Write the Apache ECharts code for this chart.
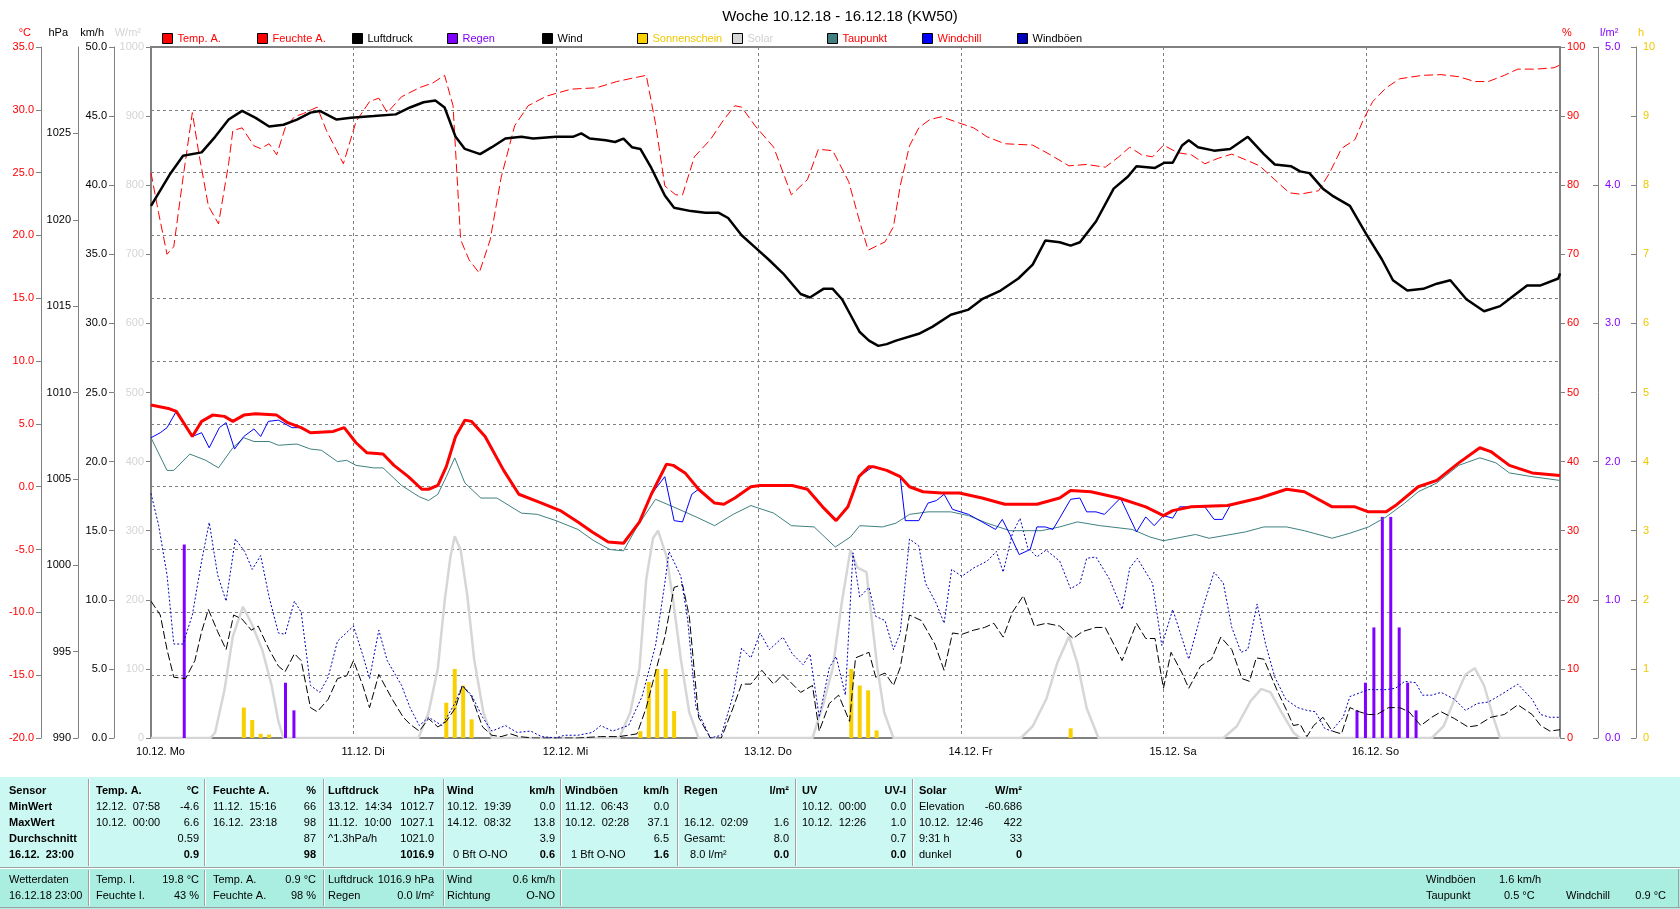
<!DOCTYPE html>
<html>
<head>
<meta charset="utf-8">
<title>Woche 10.12.18 - 16.12.18 (KW50)</title>
<script src="https://cdn.jsdelivr.net/npm/echarts@6.0.0/dist/echarts.min.js"></script>
<style>
html, body { margin: 0; padding: 0; background: #fff; }
#chart { width: 1680px; height: 909px; }
</style>
</head>
<body>
<div id="chart"></div>
<script>
// hours since 10.12. 00:00
const dayLabels = ['10.12. Mo', '11.12. Di', '12.12. Mi', '13.12. Do', '14.12. Fr', '15.12. Sa', '16.12. So'];
const hpaTicks = [990, 995, 1000, 1005, 1010, 1015, 1020, 1025];

const pressTime = [0,2.2,3.8,6,7.6,9.2,10.8,12.4,14,15.7,
  17.3,18.9,20,22,23.7,26.4,29,30.7,32.3,33.7,
  34.8,36.1,37.2,39,40.4,42,43.9,45.3,48,50,
  51,52,53.9,55,56,57,58,59.3,60.9,62,
  64,65.7,67.3,68.4,70,71.6,73.2,74.9,77,78.1,
  79.7,80.8,81.9,82.9,84,85.1,86.2,87.2,88.3,91,
  92.6,94.8,96.9,98.5,100.7,102.8,104.5,106,107.7,109,
  110.1,112,114.1,115.8,116.8,119,120.1,121.1,122.2,123,
  124.1,126,127.9,130,131.9,133.2,135.1,136.2,137.3,138.9,
  140,142.1,144,145.9,147.2,148.9,150.8,152.4,154,155.9,
  158,159.9,161.5,163.1,164.7,166.8,167];
const pressVal = [1020.8,1022.6,1023.7,1023.9,1024.8,1025.8,1026.3,1025.9,1025.4,1025.5,
  1025.8,1026.2,1026.3,1025.8,1025.9,1026.0,1026.1,1026.5,1026.8,1026.9,
  1026.5,1024.8,1024.1,1023.8,1024.2,1024.7,1024.8,1024.7,1024.8,1024.8,
  1025.0,1024.7,1024.6,1024.5,1024.7,1024.2,1024.1,1023.0,1021.4,1020.7,
  1020.5,1020.4,1020.4,1020.1,1019.1,1018.4,1017.7,1016.9,1015.7,1015.5,
  1016.0,1016.0,1015.4,1014.5,1013.5,1013.0,1012.7,1012.8,1013.0,1013.4,
  1013.8,1014.5,1014.8,1015.4,1015.9,1016.6,1017.4,1018.8,1018.7,1018.5,
  1018.7,1019.9,1021.8,1022.5,1023.1,1023.0,1023.3,1023.3,1024.3,1024.6,
  1024.2,1024.0,1024.1,1024.8,1023.8,1023.2,1023.1,1022.8,1022.7,1021.8,
  1021.4,1020.8,1019.2,1017.7,1016.5,1015.9,1016.0,1016.3,1016.5,1015.4,
  1014.7,1015.0,1015.6,1016.2,1016.2,1016.6,1016.9];

const tempTime = [0,2.2,3,4.9,6,7.3,8.7,9.7,11,12.4,
  14.9,16.2,17.8,18.9,21.6,22.9,24.3,25.6,27.5,28.8,
  30.5,32.1,32.9,34,35,36.1,37.2,38,39.6,41.8,
  43.6,46.3,48.5,50.6,52.3,54.2,56,57.9,59.3,61.1,
  61.9,63.3,64.9,66.8,67.9,69.2,71.1,72.2,76,77.8,
  79.6,81.2,82.6,83.9,85.1,85.6,87.2,88.8,89.9,91.5,
  93.7,95.8,98.5,101.2,105,107.7,109,111.4,114.7,117.9,
  120,121.1,123.3,127.6,131.4,134.6,136.7,140,142.7,144.3,
  146.4,147.5,150.2,152.4,155,157.5,158.8,161,163.7,167];
const tempVal = [6.5,6.2,6.0,4.0,5.2,5.7,5.6,5.2,5.7,5.8,
  5.7,5.1,4.7,4.3,4.4,4.7,3.5,2.7,2.6,1.7,
  0.8,-0.2,-0.2,0.1,1.6,4.0,5.3,5.2,4.0,1.3,
  -0.6,-1.3,-1.9,-2.8,-3.6,-4.4,-4.5,-2.8,-0.6,1.8,
  1.7,1.1,-0.2,-1.3,-1.4,-0.9,0.0,0.1,0.1,-0.2,
  -1.6,-2.7,-1.6,0.8,1.6,1.6,1.3,0.8,0.0,-0.4,
  -0.5,-0.5,-0.9,-1.4,-1.4,-0.9,-0.3,-0.4,-0.9,-1.6,
  -2.3,-1.9,-1.6,-1.5,-0.9,-0.2,-0.4,-1.6,-1.6,-2.0,
  -2.0,-1.5,0.0,0.5,1.9,3.1,2.8,1.7,1.1,0.9];

const dewTime = [0,1.9,2.7,4.6,6.5,8,9.7,11,12.2,14,
  15.1,17.3,18.9,20.2,22.1,23.2,24.3,26.4,27.5,29.7,
  31.8,32.9,34,35,36,37.2,39.1,41,43.9,45.8,
  48,50.6,52.5,54.4,56,57.6,59.8,61.9,64.6,66.8,
  69,71.1,73.8,75.9,78.6,81.1,82.9,84,86.7,88.3,
  89.9,92.1,94.8,96.9,99.1,101.8,105.5,107.7,109.8,112.5,
  116.3,118.4,120,123.8,125.4,129.7,131.9,134.6,136.7,140,
  142.1,144.3,146.4,148.6,150.2,152.4,155,157.5,159.4,161,
  163.7,167];
const dewVal = [3.9,1.3,1.3,2.6,2.1,1.5,3.1,3.9,3.6,3.6,
  3.3,3.4,3.0,2.9,2.0,2.1,1.7,1.5,1.5,0.1,
  -0.8,-1.1,-0.6,0.8,2.3,0.3,-0.9,-0.9,-2.1,-2.2,
  -2.7,-3.4,-4.3,-5.0,-5.1,-3.2,-1.0,-1.6,-2.4,-3.1,
  -2.2,-1.5,-2.1,-3.1,-3.2,-4.8,-4.0,-3.1,-3.2,-2.9,
  -2.2,-2.0,-2.0,-2.3,-2.9,-3.5,-3.5,-3.2,-2.8,-3.1,
  -3.4,-4.0,-4.3,-3.8,-4.1,-3.6,-3.2,-3.2,-3.5,-4.1,
  -3.7,-3.2,-2.4,-1.3,-0.4,0.3,1.7,2.3,1.9,1.1,
  0.8,0.5];

const chillTime = [0,1.1,1.9,3,4.9,6,6.9,8.1,8.9,9.9,
  11,12.2,13,13.9,15.1,16.7,17.8,18.9,21.6,22.9,
  24.3,25.6,27.5,28.8,30.5,32.1,32.9,34,35,36.1,
  37.2,38,39.6,41.8,43.6,46.3,48.5,50.6,52.3,54.2,
  56,57.9,59.3,60.9,62,63,64.1,64.9,66.8,67.9,
  69.2,71.1,72.2,76,77.8,79.6,81.2,82.6,83.9,85.6,
  87.2,88.8,89.4,91,92.1,93.1,94,95,96.9,98.5,
  100.1,100.9,101.8,102.9,104.2,105,106,106.9,107.7,109,
  110.1,110.9,112,113,114.9,116.8,117.9,118.9,120,121.1,
  121.9,123.3,124.9,126,127,127.9,131.4,134.6,136.7,140,
  142.7,144.3,146.4,147.5,150.2,152.4,155,157.5,158.8,161,
  163.7,167];
const chillVal = [3.9,4.3,4.7,6.0,4.0,4.3,3.1,4.7,5.1,3.0,
  4.0,4.6,4.0,5.2,5.3,4.7,4.7,4.3,4.4,4.7,
  3.5,2.7,2.6,1.7,0.8,-0.2,-0.2,0.1,1.6,4.0,
  5.3,5.2,4.0,1.3,-0.6,-1.3,-1.9,-2.8,-3.6,-4.4,
  -4.5,-2.8,-0.6,0.8,-2.7,-2.8,-0.6,-0.2,-1.3,-1.4,
  -0.9,0.0,0.1,0.1,-0.2,-1.6,-2.7,-1.6,0.8,1.6,
  1.3,0.8,-2.7,-2.7,-1.3,-1.1,-0.6,-1.8,-2.2,-2.8,
  -3.4,-2.6,-3.8,-5.4,-5.0,-3.2,-3.2,-3.4,-2.5,-1.0,
  -0.9,-2.0,-2.0,-2.2,-0.9,-3.6,-2.4,-3.1,-2.3,-2.5,
  -1.6,-1.6,-1.6,-2.6,-2.6,-1.5,-0.9,-0.2,-0.4,-1.6,
  -1.6,-2.0,-2.0,-1.5,0.0,0.5,1.9,3.1,2.8,1.7,
  1.1,0.9];

const humTime = [0,0.9,1.9,2.7,3.8,4.9,5.7,6.8,8,9.2,
  9.7,10.8,12.2,13,14,14.9,15.9,17,18.1,19.7,
  20.8,22.8,24.3,25.9,27,28,29.7,31.8,33.4,34.8,
  35.8,36.7,37.7,38.9,40.2,41.5,43.1,44.7,46.9,49.8,
  52.8,55.2,57.1,58.7,59.8,60.9,62.2,63,64.4,66.3,
  67.9,69.2,70,71.6,73.8,75.9,77.8,79.1,80.8,82.7,
  84,85,87,88,88.8,89.9,91,92.3,93.7,95.8,
  97.5,99.1,101.2,104.5,106.6,108.8,110.9,113.1,114.7,116,
  117.4,118.7,120,121.7,123.3,124.9,126.5,128.1,129.7,131.4,
  133.2,134.9,136.2,138.4,139.7,141.1,142.7,143.7,144.8,146.4,
  148,150.7,152.9,155,156.9,158.5,160.4,162,164.2,166.3,
  167];
const humVal = [81.8,76.0,70.0,71.1,81.1,90.5,84.4,77.0,74.4,83.1,
  87.9,88.3,85.7,85.3,86.0,84.4,88.3,89.9,90.4,91.3,
  87.9,83.1,89.2,92.1,92.6,90.5,92.8,94.1,94.8,95.9,
  91.5,72.1,69.2,67.3,72.1,81.1,88.6,91.5,92.9,93.9,
  94.1,95.0,95.5,95.9,88.9,79.9,78.6,78.6,84.1,86.6,
  89.5,91.5,91.3,88.6,85.5,78.6,80.8,85.2,85.0,80.5,
  74.7,70.6,71.8,74.0,79.9,85.7,88.3,89.5,89.9,89.0,
  88.3,87.0,86.0,85.8,84.4,82.8,83.0,82.6,84.1,85.5,
  84.4,84.1,85.8,84.7,84.4,83.1,83.9,84.5,83.7,82.8,
  80.8,78.9,78.7,79.2,81.8,85.3,86.6,89.5,92.1,94.1,
  95.4,95.9,96.0,95.7,95.0,95.0,95.9,96.8,96.8,97.0,
  97.4];

const windTime = [0,1.1,1.9,2.7,4.1,5.2,6,6.8,7.9,8.9,
  9.8,10.8,11.9,12.7,14,15.1,15.9,17,17.8,18.9,
  19.7,21,22.1,23.2,24,25.1,25.9,27,28.6,29.9,
  30.7,31.8,32.9,34,35,36.1,36.9,38,39.3,40.4,
  41.5,42.6,43.6,45.3,48,50.6,53.3,55.5,57.6,58.7,
  59.8,60.9,62,63,63.8,64.9,66.3,67.6,69,70,
  71.1,72.4,73.8,74.9,77,78.4,79.2,80.4,81.5,82.8,
  83.5,85.1,85.9,87,88,88.8,89.9,91.3,92.9,94,
  95,96.1,97.5,98.8,99.9,101,102.1,103.4,104.7,106.1,
  107.7,109.3,110.4,112,113.1,115.1,116.8,117.9,119,120,
  120.9,122.2,123,124.4,125.7,126.8,128.1,129.3,130.2,131,
  131.9,133.5,134.6,135.4,136.2,137,137.8,138.9,140,141.1,
  142.1,143.2,144.3,145.3,146.7,148,149.1,150.5,151.8,152.9,
  154.5,156.1,157.2,158.8,160.4,162,163.7,164.7,165.8,167];
const windVal = [9.9,8.9,6.4,4.4,4.3,5.6,7.7,9.3,7.7,6.4,
  8.9,8.6,7.8,8.1,6.4,5.2,4.8,6.1,5.6,2.2,
  1.9,2.8,4.3,4.5,5.6,3.8,2.2,4.6,2.8,1.5,
  1.0,0.5,1.4,0.8,1.2,2.2,3.8,3.0,0.8,0.2,
  0.1,0.3,0.1,0.0,0.0,0.0,0.1,0.1,0.3,2.2,
  4.8,7.3,10.9,11.1,8.8,1.5,0.0,0.0,2.2,3.9,
  3.9,4.9,3.9,4.6,3.3,3.8,0.5,2.5,3.1,1.2,
  5.8,6.2,4.4,4.7,3.8,5.1,8.9,8.5,6.8,4.9,
  7.6,7.5,7.8,8.0,8.3,7.3,9.1,10.3,8.1,8.3,
  8.1,7.2,7.7,8.0,8.0,5.6,8.3,7.2,7.2,3.6,
  6.2,4.7,3.6,5.2,5.7,7.3,6.4,4.3,4.1,5.8,
  5.7,3.4,2.0,0.9,1.0,0.1,0.9,1.5,0.5,0.3,
  2.2,1.9,1.7,1.7,2.2,2.2,1.9,0.9,1.5,1.9,
  1.4,0.8,0.9,1.5,1.7,2.4,1.7,0.9,0.5,0.6];

const gustTime = [0,0.9,1.9,2.7,3.8,4.9,6,6.9,7.9,8.9,
  10,11.1,12,13,14,15.1,15.9,17,17.8,18.9,
  20,21,22.1,24,25.1,25.9,27,28,29.7,30.7,
  31.8,32.9,34.5,36.1,36.9,38,39.3,40.4,42,43.4,
  45,46.3,48,49,50.6,52.3,53.3,54.7,56.6,58.2,
  59.8,60.9,61.4,62.8,63.6,64.6,66.3,67.6,69,70,
  71.1,72.2,73.3,74.9,76,77.3,78.1,79.2,80.4,81.2,
  82.3,83.2,84,85.1,85.9,87,88,88.8,89.9,91,
  91.8,93.1,94,94.9,96.1,97.5,99.1,100.2,101,102.1,
  103,103.9,105,106.1,107.7,109,110.1,110.9,112,113.6,
  115.1,116,116.9,118.7,119.8,121.1,123,124.6,126,127.1,
  128.1,129.2,130,131.1,132.1,133.2,134.5,135.9,137,138,
  139.1,139.9,141.3,142.1,144.3,146.4,147.5,148.6,149.9,150.7,
  151.8,152.9,154.5,155.8,157.2,158.5,159.9,162,163.7,164.7,
  165.8,167];
const gustVal = [17.7,15.4,11.8,6.8,6.8,8.9,12.8,15.6,11.8,9.9,
  14.4,13.5,12.2,13.2,10.2,7.6,7.5,9.9,9.1,3.8,
  3.3,4.4,7.0,8.1,6.0,4.3,7.8,5.6,3.8,2.2,
  0.9,1.5,0.9,2.6,3.8,3.1,1.5,0.5,0.9,0.4,
  0.5,0.1,0.0,0.2,0.2,0.4,0.9,0.5,0.9,3.0,
  6.7,11.2,13.5,11.7,8.6,2.2,0.0,0.2,3.1,6.5,
  5.8,7.6,6.4,7.3,6.1,5.3,6.1,1.5,5.1,5.9,
  3.1,13.4,10.2,10.9,8.8,8.5,6.4,7.6,14.4,13.9,
  11.2,9.7,8.3,12.2,11.7,12.3,12.8,13.5,12.0,14.8,
  15.9,13.8,13.1,13.6,12.8,10.8,11.2,13.0,13.1,11.5,
  9.3,12.3,13.0,11.2,6.7,9.3,5.7,9.3,12.0,11.2,
  8.0,6.2,6.4,9.7,6.8,4.4,2.8,2.2,2.0,1.9,
  0.7,0.5,1.5,3.0,3.5,3.5,3.6,4.1,4.0,3.1,
  3.1,3.3,2.8,2.0,2.5,2.6,3.1,3.9,2.8,1.7,
  1.5,1.5];

const solarTime = [0,7.05,7.6,8.7,9.7,10.9,11.9,13.2,14.3,15.1,
  15.7,31.7,32.9,34,34.8,35.5,36,36.7,37.5,38.3,
  39.4,40.4,55.5,56.8,57.9,58.7,59.5,60.1,61.1,61.9,
  62.8,63.8,64.9,78.4,79.7,80.8,81.9,82.9,83.7,84.8,
  85.3,86.1,86.9,88,103.1,104.5,106.1,107.4,108.8,109.8,
  110.9,112.3,127.1,128.7,130.3,131.6,132.7,134,135.4,136.2,
  151.8,153.2,154.5,155.8,156.9,158,159.1,159.9,167];
const solarVal = [0,0,8,69,147,190,166,127,76,24,
  0,0,37,101,198,263,292,272,205,114,
  37,0,0,37,101,230,289,300,263,198,
  114,37,0,0,50,101,198,272,247,240,
  185,101,37,0,0,17,56,108,147,108,
  43,0,0,17,53,71,66,37,8,0,
  0,17,56,92,101,76,30,0,0];

const rainTime = [4, 16, 17, 143, 144, 145, 146, 147, 148, 149, 150];
const rainVal = [1.4, 0.4, 0.2, 0.2, 0.4, 0.8, 1.6, 1.6, 0.8, 0.4, 0.2];

const sunTime = [11, 12, 13, 14, 35, 36, 37, 38, 58, 59, 60, 61, 62, 83, 84, 85, 86, 109];
const sunVal = [0.44, 0.26, 0.06, 0.05, 0.51, 1.0, 0.76, 0.27, 0.1, 0.81, 1.0, 1.0, 0.39, 1.0, 0.76, 0.69, 0.11, 0.14];

const legendNames = ['Temp. A.', 'Feuchte A.', 'Luftdruck', 'Regen', 'Wind', 'Sonnenschein', 'Solar', 'Taupunkt', 'Windchill', 'Windböen'];
const legendTextColors = ['#ff0000', '#ff0000', '#000000', '#8000ff', '#000000', '#f0c800', '#d0d0d0', '#ff0000', '#ff0000', '#000000'];

// summary table below the plot
const tableCols = [
  { lx: 9, rx: 0, cells: [['Sensor', ''], ['MinWert', ''], ['MaxWert', ''], ['Durchschnitt', ''], ['16.12.  23:00', '']], allBold: true },
  { lx: 96, rx: 199, cells: [['Temp. A.', '°C'], ['12.12.  07:58', '-4.6'], ['10.12.  00:00', '6.6'], ['', '0.59'], ['', '0.9']] },
  { lx: 213, rx: 316, cells: [['Feuchte A.', '%'], ['11.12.  15:16', '66'], ['16.12.  23:18', '98'], ['', '87'], ['', '98']] },
  { lx: 328, rx: 434, cells: [['Luftdruck', 'hPa'], ['13.12.  14:34', '1012.7'], ['11.12.  10:00', '1027.1'], ['^1.3hPa/h', '1021.0'], ['', '1016.9']] },
  { lx: 447, rx: 555, cells: [['Wind', 'km/h'], ['10.12.  19:39', '0.0'], ['14.12.  08:32', '13.8'], ['', '3.9'], ['  0 Bft O-NO', '0.6']] },
  { lx: 565, rx: 669, cells: [['Windböen', 'km/h'], ['11.12.  06:43', '0.0'], ['10.12.  02:28', '37.1'], ['', '6.5'], ['  1 Bft O-NO', '1.6']] },
  { lx: 684, rx: 789, cells: [['Regen', 'l/m²'], ['', ''], ['16.12.  02:09', '1.6'], ['Gesamt:', '8.0'], ['  8.0 l/m²', '0.0']] },
  { lx: 802, rx: 906, cells: [['UV', 'UV-I'], ['10.12.  00:00', '0.0'], ['10.12.  12:26', '1.0'], ['', '0.7'], ['', '0.0']] },
  { lx: 919, rx: 1022, cells: [['Solar', 'W/m²'], ['Elevation', '-60.686'], ['10.12.  12:46', '422'], ['9:31 h', '33'], ['dunkel', '0']] },
];
const currentCols = [
  { lx: 9, rx: 0, cells: [['Wetterdaten', ''], ['16.12.18 23:00', '']] },
  { lx: 96, rx: 199, cells: [['Temp. I.', '19.8 °C'], ['Feuchte I.', '43 %']] },
  { lx: 213, rx: 316, cells: [['Temp. A.', '0.9 °C'], ['Feuchte A.', '98 %']] },
  { lx: 328, rx: 434, cells: [['Luftdruck', '1016.9 hPa'], ['Regen', '0.0 l/m²']] },
  { lx: 447, rx: 555, cells: [['Wind', '0.6 km/h'], ['Richtung', 'O-NO']] },
];
const currentExtra = [
  ['Windböen', 1426, 0], ['1.6 km/h', 1499, 0],
  ['Taupunkt', 1426, 1], ['0.5 °C', 1504, 1], ['Windchill', 1566, 1],
];

const fontFamily = "'Liberation Sans', Arial, sans-serif";
const gridColor = '#808080';

const pairs = (t, v) => t.map((h, i) => [h, v[i]]);

const text = (x, y, s, align, bold) => ({
  type: 'text',
  x: x,
  y: y,
  silent: true,
  z: 10,
  style: {
    text: s,
    fill: '#000',
    font: (bold ? 'bold ' : '') + '11px ' + fontFamily,
    align: align,
    textAlign: align,
    verticalAlign: 'middle',
    textVerticalAlign: 'middle',
  },
});
const vline = (x, y1, y2, color) => ({
  type: 'line',
  silent: true,
  z: 5,
  shape: { x1: x + 0.5, y1: y1, x2: x + 0.5, y2: y2 },
  style: { stroke: color, lineWidth: 1 },
});
const hline = (y, x1, x2, color) => ({
  type: 'line',
  silent: true,
  z: 5,
  shape: { x1: x1, y1: y + 0.5, x2: x2, y2: y + 0.5 },
  style: { stroke: color, lineWidth: 1 },
});

const buildTable = () => {
  const els = [];
  els.push({ type: 'rect', silent: true, z: 1, shape: { x: 0, y: 777, width: 1680, height: 92 }, style: { fill: '#cbf8f3' } });
  els.push({ type: 'rect', silent: true, z: 1, shape: { x: 0, y: 869, width: 1680, height: 40 }, style: { fill: '#aaeee2' } });
  els.push(hline(867, 0, 1680, '#a0a0a0'));
  els.push(hline(868, 0, 1680, '#ffffff'));
  els.push(hline(907, 0, 1680, '#a0a0a0'));
  els.push(vline(1678, 869, 908, '#a0a0a0'));
  [88, 204, 323, 443, 560, 677, 795, 912].forEach((x) => {
    els.push(vline(x, 779, 866, '#a0a0a0'));
    els.push(vline(x + 1, 779, 866, '#ffffff'));
  });
  [88, 204, 323, 443, 560].forEach((x) => {
    els.push(vline(x, 870, 906, '#a0a0a0'));
    els.push(vline(x + 1, 870, 906, '#ffffff'));
  });
  const rowsY = [791, 807, 823, 839, 855];
  tableCols.forEach((col) => {
    col.cells.forEach((cell, r) => {
      const bold = col.allBold || r === 0;
      if (cell[0]) els.push(text(col.lx, rowsY[r], cell[0], 'left', bold));
      if (cell[1]) els.push(text(col.rx, rowsY[r], cell[1], 'right', r === 0 || r === 4));
    });
  });
  const lowY = [880, 896];
  currentCols.forEach((col) => {
    col.cells.forEach((cell, r) => {
      if (cell[0]) els.push(text(col.lx, lowY[r], cell[0], 'left', false));
      if (cell[1]) els.push(text(col.rx, lowY[r], cell[1], 'right', false));
    });
  });
  currentExtra.forEach((c) => els.push(text(c[1], lowY[c[2]], c[0], 'left', false)));
  els.push(text(1666, lowY[1], '0.9 °C', 'right', false));
  return els;
};

const yAx = (o) => ({
  type: 'value',
  position: o.pos,
  offset: o.offset,
  min: o.min,
  max: o.max,
  interval: o.step,
  name: o.name,
  nameLocation: 'end',
  nameGap: 14,
  nameTextStyle: {
    color: o.color,
    fontSize: 11,
    fontFamily,
    align: o.pos === 'left' ? 'right' : 'left',
    verticalAlign: 'middle',
    padding: o.pos === 'left' ? [0, 10, 0, 0] : [0, 0, 0, 2],
  },
  axisLine: { show: o.line !== false, onZero: false, lineStyle: { color: gridColor, width: 1 } },
  axisTick: {
    show: true,
    length: 5,
    inside: !!o.tickInside,
    customValues: o.ticks,
    lineStyle: { color: gridColor },
  },
  axisLabel: {
    color: o.color,
    fontSize: 11,
    fontFamily,
    margin: 7,
    customValues: o.ticks,
    showMaxLabel: true,
    formatter: (v) => (o.hideMax && v >= o.max ? '' : v.toFixed(o.dec)),
  },
  splitLine: { show: !!o.split, lineStyle: { color: gridColor, type: [3, 3], width: 1 } },
});

const lineSeries = (name, axis, t, v, color, width, type, z) => ({
  name,
  type: 'line',
  yAxisIndex: axis,
  data: pairs(t, v),
  showSymbol: false,
  symbol: 'none',
  color,
  lineStyle: { color, width, type },
  emphasis: { disabled: true },
  z,
});

const chart = echarts.init(document.getElementById('chart'));

const option = {
  backgroundColor: '#ffffff',
  animation: false,
  textStyle: { fontFamily },
  title: {
    text: 'Woche 10.12.18 - 16.12.18 (KW50)',
    left: 'center',
    top: 4,
    textStyle: { fontSize: 15, fontWeight: 'normal', color: '#000', fontFamily },
  },
  legend: legendNames.map((n, i) => ({
    data: [n],
    left: 162 + i * 95,
    top: 33,
    padding: 0,
    itemWidth: 10,
    itemHeight: 10,
    icon: 'rect',
    selectedMode: false,
    itemStyle: { borderColor: '#000', borderWidth: 1 },
    textStyle: { color: legendTextColors[i], fontSize: 11, fontFamily },
  })),
  grid: {
    left: 151,
    right: 120,
    top: 47,
    bottom: 171,
    show: true,
    borderColor: gridColor,
    borderWidth: 2,
    backgroundColor: 'transparent',
  },
  xAxis: {
    type: 'value',
    min: 0,
    max: 167,
    interval: 24,
    axisLine: { show: false, onZero: false },
    axisTick: { show: false },
    axisLabel: {
      color: '#000',
      fontSize: 11,
      fontFamily,
      margin: 8,
      padding: [0, 0, 0, 19],
      showMaxLabel: false,
      formatter: (v) => (v % 24 === 0 ? dayLabels[v / 24] : ''),
    },
    splitLine: { show: true, lineStyle: { color: gridColor, type: [3, 3], width: 1 } },
  },
  yAxis: [
    yAx({ pos: 'left', offset: 110, min: -20, max: 35, step: 5, name: '°C', color: '#ff0000', dec: 1, split: true }),
    yAx({ pos: 'left', offset: 73, min: 990, max: 1030, step: 5, name: 'hPa', color: '#000000', dec: 0, ticks: hpaTicks, hideMax: true }),
    yAx({ pos: 'left', offset: 37, min: 0, max: 50, step: 5, name: 'km/h', color: '#000000', dec: 1 }),
    yAx({ pos: 'left', offset: 0, min: 0, max: 1000, step: 100, name: 'W/m²', color: '#d4d4d4', dec: 0, line: false }),
    yAx({ pos: 'right', offset: 0, min: 0, max: 100, step: 10, name: '%', color: '#ff0000', dec: 0, line: false }),
    yAx({ pos: 'right', offset: 38, min: 0, max: 5, step: 1, name: 'l/m²', color: '#8000ff', dec: 1, tickInside: true }),
    yAx({ pos: 'right', offset: 76, min: 0, max: 10, step: 1, name: 'h', color: '#f0c800', dec: 0, tickInside: true }),
  ],
  series: [
    lineSeries('Solar', 3, solarTime, solarVal, '#d6d6d6', 2.5, 'solid', 1),
    {
      name: 'Regen',
      type: 'bar',
      yAxisIndex: 5,
      barWidth: 3,
      barGap: '-100%',
      data: pairs(rainTime, rainVal),
      itemStyle: { color: '#8000ff' },
      color: '#8000ff',
      z: 2,
    },
    {
      name: 'Sonnenschein',
      type: 'bar',
      yAxisIndex: 6,
      barWidth: 4,
      barGap: '-100%',
      data: pairs(sunTime, sunVal),
      itemStyle: { color: '#f8d000' },
      color: '#f8d000',
      z: 2,
    },
    lineSeries('Wind', 2, windTime, windVal, '#000000', 1, [8, 3], 3),
    lineSeries('Windböen', 2, gustTime, gustVal, '#0000b8', 1, [2, 2], 3),
    lineSeries('Taupunkt', 0, dewTime, dewVal, '#408080', 1, 'solid', 4),
    lineSeries('Windchill', 0, chillTime, chillVal, '#0000ff', 1, 'solid', 4),
    lineSeries('Feuchte A.', 4, humTime, humVal, '#ff0000', 1, [9, 4], 5),
    lineSeries('Temp. A.', 0, tempTime, tempVal, '#ff0000', 3, 'solid', 6),
    lineSeries('Luftdruck', 1, pressTime, pressVal, '#000000', 2.5, 'solid', 6),
  ],
  graphic: buildTable(),
};

chart.setOption(option);

const handleResize = () => chart && chart.resize();
window.addEventListener('resize', handleResize);
</script>
</body>
</html>
